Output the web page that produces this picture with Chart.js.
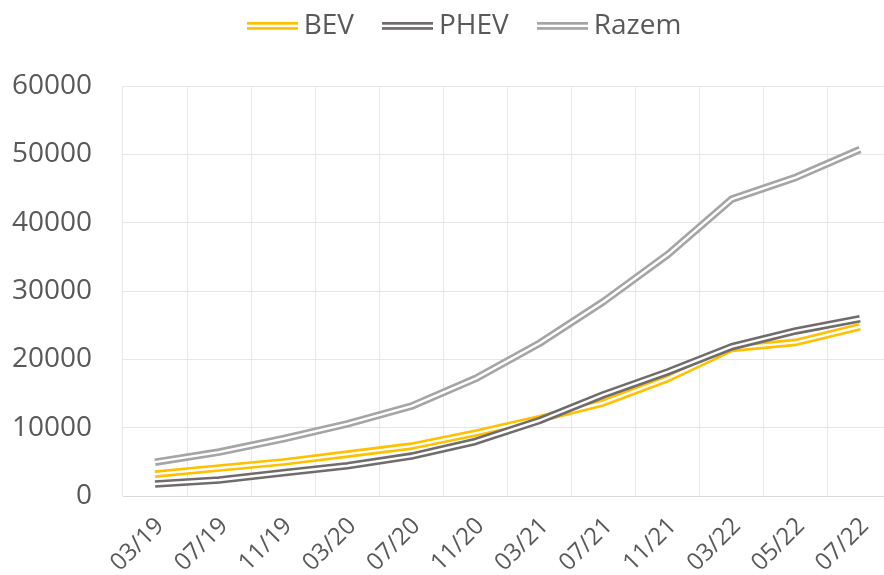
<!DOCTYPE html>
<html>
<head>
<meta charset="utf-8">
<script src="https://cdn.jsdelivr.net/npm/chart.js@4.4.0/dist/chart.umd.min.js"></script>
<style>
  html, body { margin: 0; padding: 0; background: #fff; overflow: hidden; }
  #wrap { width: 900px; height: 575px; }
</style>
</head>
<body>
<div id="wrap"><canvas id="chart" width="900" height="575"></canvas></div>
<script>
const months = ['03/19', '07/19', '11/19', '03/20', '07/20', '11/20', '03/21', '07/21', '11/21', '03/22', '05/22', '07/22'];
const bevValues = [3200, 4090, 4980, 6130, 7300, 9200, 11300, 13650, 17180, 21600, 22480, 24770];
const phevValues = [1750, 2340, 3400, 4420, 5840, 7980, 11050, 14820, 18150, 21850, 24160, 25940];
const razemValues = [4950, 6430, 8380, 10550, 13140, 17180, 22350, 28470, 35330, 43450, 46640, 50710];
const yTicks = [0, 10000, 20000, 30000, 40000, 50000, 60000];

const seriesNames = ['BEV', 'PHEV', 'Razem'];
const seriesValues = [bevValues, phevValues, razemValues];
const seriesColors = ['#FFC000', '#706C6C', '#A5A5A5'];
const drawOrder = [4, 2, 6]; // lower order is drawn on top

const FONT = '"Open Sans", "Noto Sans", sans-serif';
const TEXT_COLOR = '#595959';
const LINE_WIDTH = 7.6;
const GAP_WIDTH = 2.4;

// double line icon for the legend (Excel "double" compound line)
function legendIcon(color) {
  const c = document.createElement('canvas');
  c.width = 51;
  c.height = 8;
  const g = c.getContext('2d');
  g.fillStyle = color;
  g.fillRect(0, 0, 51, 2.7);
  g.fillRect(0, 5.1, 51, 2.7);
  return c;
}

// each series = a thick coloured line + a thin white line on top of it
const datasets = [];
seriesNames.forEach((name, i) => {
  datasets.push({
    label: name,
    data: seriesValues[i],
    borderColor: seriesColors[i],
    backgroundColor: seriesColors[i],
    borderWidth: LINE_WIDTH,
    pointStyle: legendIcon(seriesColors[i]),
    order: drawOrder[i]
  });
  datasets.push({
    label: name + ' gap',
    data: seriesValues[i],
    borderColor: '#ffffff',
    borderWidth: GAP_WIDTH,
    isGap: true,
    order: drawOrder[i] - 1
  });
});

// the legend sits higher and a bit more to the right than chart.js puts it
const legendNudge = {
  id: 'legendNudge',
  afterLayout(chart) {
    const lg = chart.legend;
    lg.left += 17; lg.right += 17;
    lg.top -= 36; lg.bottom -= 36;
  }
};

new Chart(document.getElementById('chart'), {
  type: 'line',
  data: { labels: months, datasets },
  plugins: [legendNudge],
  options: {
    responsive: false,
    animation: false,
    events: [],
    layout: { padding: { top: 12, left: 10, right: 8, bottom: 0 } },
    elements: {
      line: { tension: 0, borderJoinStyle: 'round', borderCapStyle: 'butt', fill: false },
      point: { radius: 0 }
    },
    plugins: {
      tooltip: { enabled: false },
      legend: {
        position: 'top',
        labels: {
          usePointStyle: true,
          pointStyleWidth: 35,
          padding: 36,
          color: TEXT_COLOR,
          font: { family: FONT, size: 28 },
          filter: (item, data) => !data.datasets[item.datasetIndex].isGap,
          sort: (a, b) => a.datasetIndex - b.datasetIndex
        }
      }
    },
    scales: {
      x: {
        offset: true,
        grid: { offset: true, color: '#e6e6e6', drawTicks: false },
        border: { color: '#d9d9d9' },
        ticks: {
          autoSkip: false,
          minRotation: 45,
          maxRotation: 45,
          padding: 16,
          labelOffset: 5,
          color: TEXT_COLOR,
          font: { family: FONT, size: 24 }
        },
        afterFit: (scale) => { scale.height = 79; }
      },
      y: {
        min: yTicks[0],
        max: yTicks[yTicks.length - 1],
        afterBuildTicks: (scale) => { scale.ticks = yTicks.map(v => ({ value: v })); },
        grid: { color: '#e6e6e6', drawTicks: false },
        border: { display: false },
        ticks: {
          padding: 31,
          color: TEXT_COLOR,
          font: { family: FONT, size: 28 },
          callback: (v) => String(v)
        },
        afterFit: (scale) => { scale.width = 113; }
      }
    }
  }
});
</script>
</body>
</html>
